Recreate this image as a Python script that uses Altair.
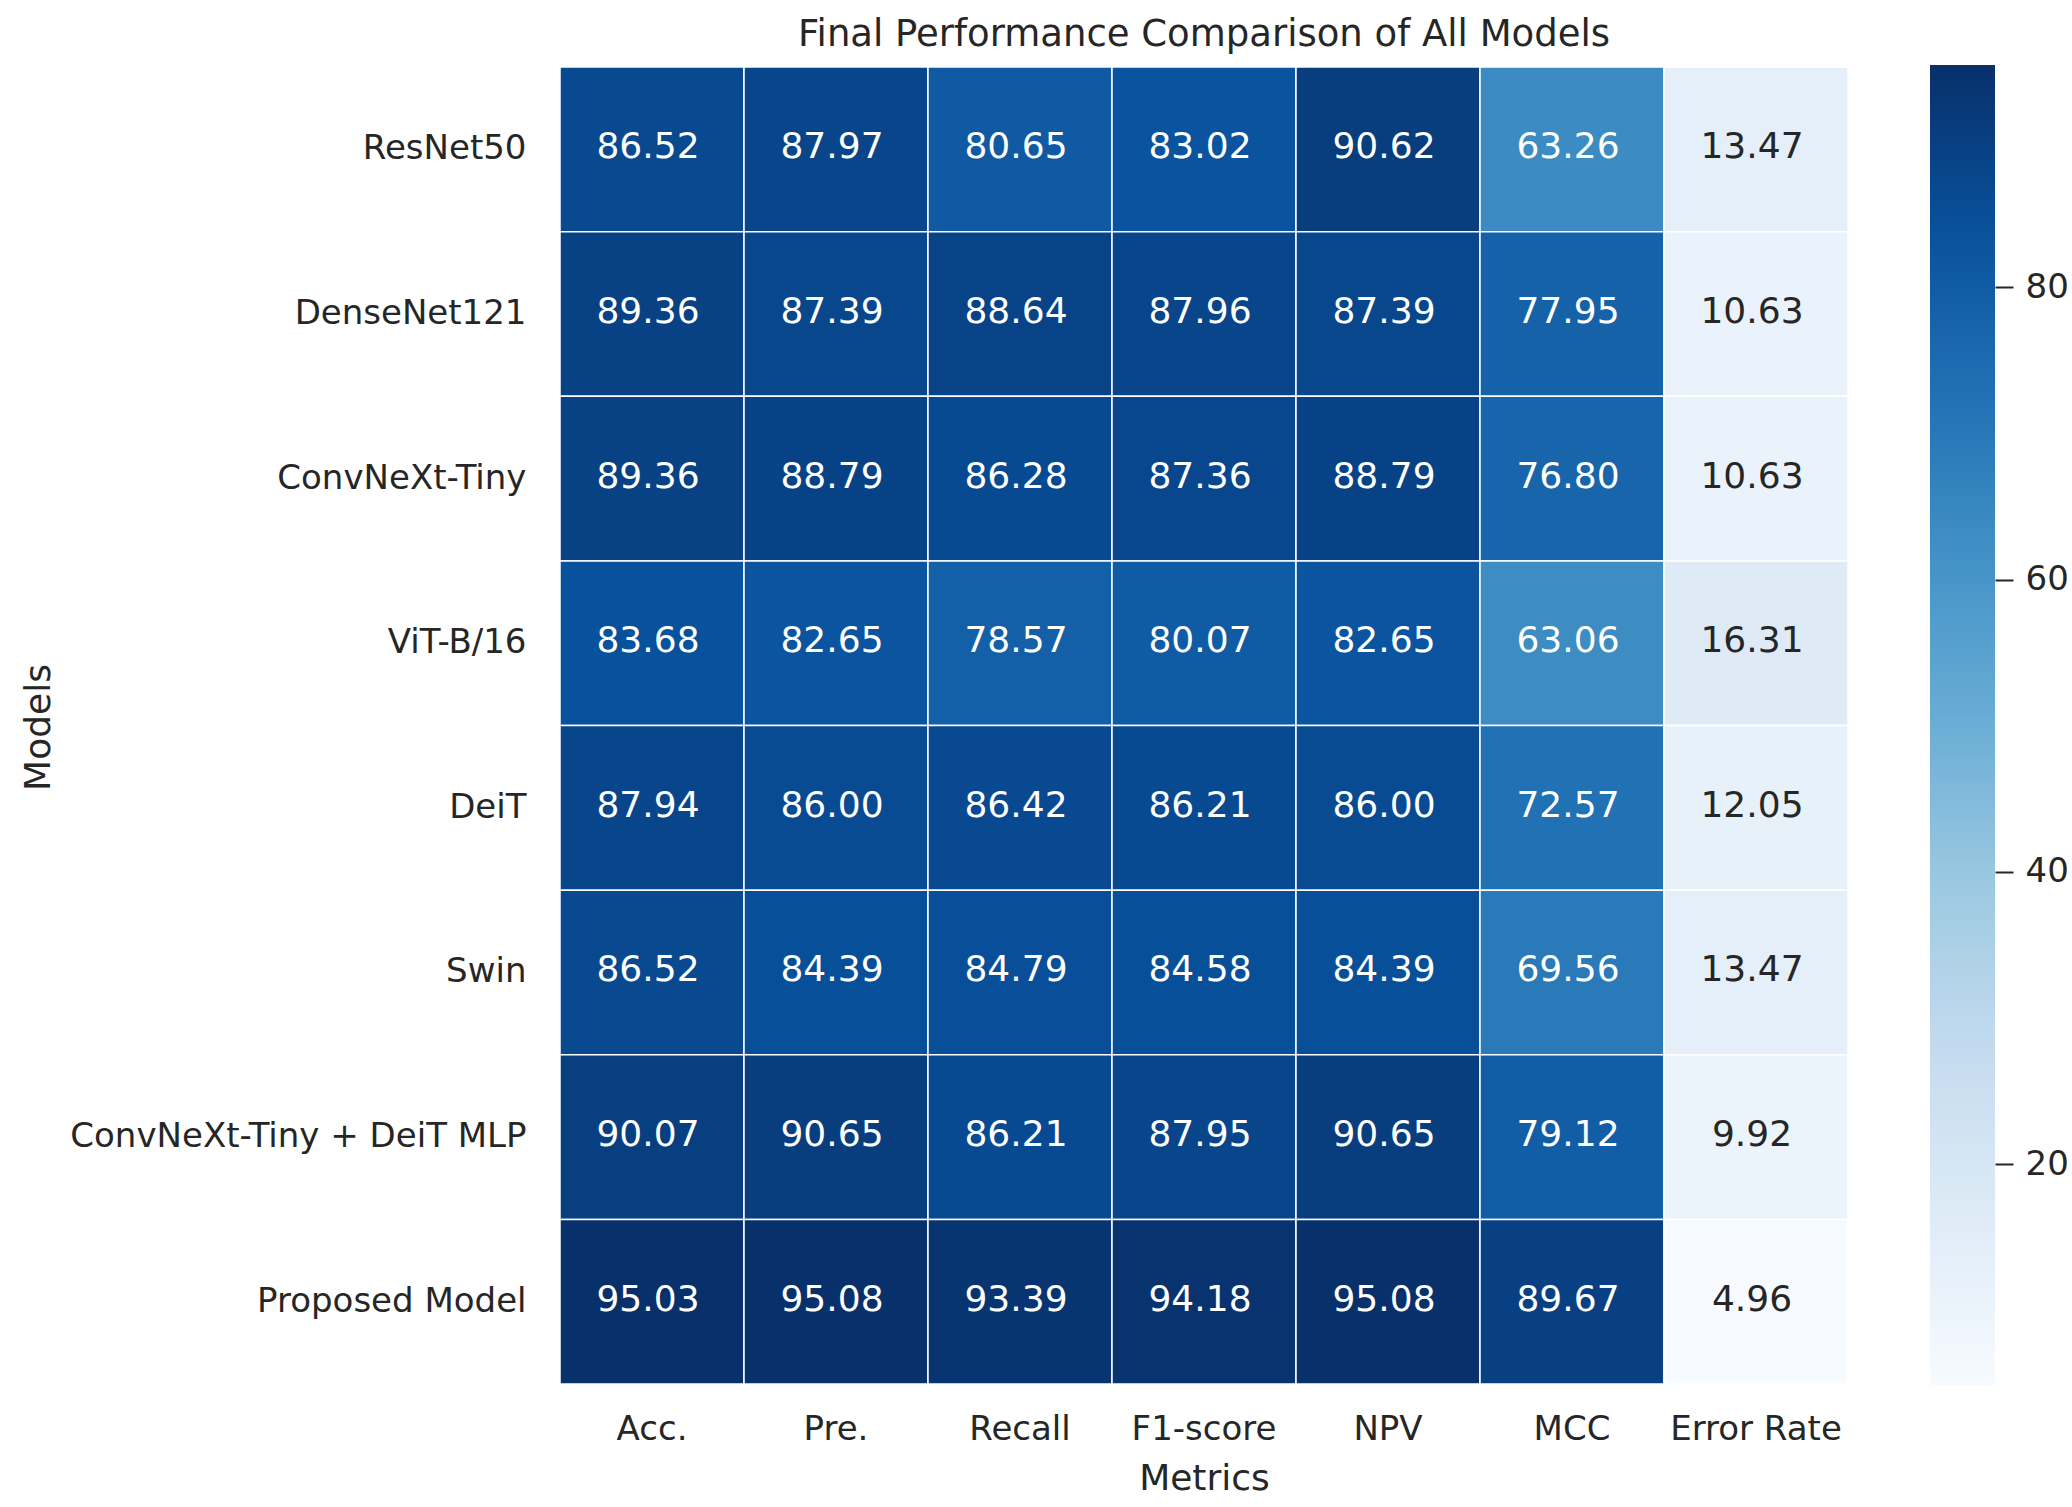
import altair as alt
import pandas as pd

models = ["ResNet50", "DenseNet121", "ConvNeXt-Tiny", "ViT-B/16", "DeiT", "Swin",
          "ConvNeXt-Tiny + DeiT MLP", "Proposed Model"]
metrics = ["Acc.", "Pre.", "Recall", "F1-score", "NPV", "MCC", "Error Rate"]

acc = [86.52, 89.36, 89.36, 83.68, 87.94, 86.52, 90.07, 95.03]
pre = [87.97, 87.39, 88.79, 82.65, 86.00, 84.39, 90.65, 95.08]
recall = [80.65, 88.64, 86.28, 78.57, 86.42, 84.79, 86.21, 93.39]
f1 = [83.02, 87.96, 87.36, 80.07, 86.21, 84.58, 87.95, 94.18]
npv = [90.62, 87.39, 88.79, 82.65, 86.00, 84.39, 90.65, 95.08]
mcc = [63.26, 77.95, 76.80, 63.06, 72.57, 69.56, 79.12, 89.67]
err = [13.47, 10.63, 10.63, 16.31, 12.05, 13.47, 9.92, 4.96]

cbar_ticks = [20, 40, 60, 80]

blues = ["#f7fbff", "#deebf7", "#c6dbef", "#9ecae1", "#6baed6",
         "#4292c6", "#2171b5", "#08519c", "#08306b"]

series = [acc, pre, recall, f1, npv, mcc, err]
rows = []
for metric, vals in zip(metrics, series):
    for model, v in zip(models, vals):
        rows.append({"Model": model, "Metric": metric, "value": v})
df = pd.DataFrame(rows)

vmin = float(df["value"].min())
vmax = float(df["value"].max())
stops = [vmin + (vmax - vmin) * i / (len(blues) - 1) for i in range(len(blues))]

FONT = "DejaVu Sans"
TXT = "#262626"

W, H = 1288, 1317

color_scale = alt.Scale(domain=stops, range=blues, interpolate="rgb")

base = alt.Chart(df)

x_enc = alt.X("Metric:N", sort=metrics, title="Metrics",
              axis=alt.Axis(labelAngle=0, ticks=False, domain=False, labelFontSize=34,
                            labelFont=FONT, labelColor=TXT, labelPadding=28,
                            titleFontSize=36, titleFont=FONT, titleColor=TXT,
                            titleFontWeight="normal", titleBaseline="alphabetic",
                            titleY=105, titleX=W / 2))
y_enc = alt.Y("Model:N", sort=models, title="Models",
              axis=alt.Axis(ticks=False, domain=False, labelFontSize=34, labelFont=FONT,
                            labelColor=TXT, labelPadding=34, labelLimit=1000,
                            titleFontSize=36, titleFont=FONT, titleColor=TXT,
                            titleFontWeight="normal", titleBaseline="alphabetic",
                            titleAngle=270, titleX=-511, titleY=660))

rect = base.mark_rect(stroke="white", strokeWidth=1.5).encode(
    x=x_enc,
    y=y_enc,
    color=alt.Color("value:Q", scale=color_scale, title=None,
                    legend=alt.Legend(orient="none", legendX=1370, legendY=-2,
                                      direction="vertical", gradientLength=1320,
                                      gradientThickness=65, gradientStrokeWidth=0,
                                      labelOpacity=0, labelFontSize=1)),
)

text = base.mark_text(fontSize=36, font=FONT, baseline="middle", align="center",
                      dx=-4, dy=-2).encode(
    x=alt.X("Metric:N", sort=metrics),
    y=alt.Y("Model:N", sort=models),
    text=alt.Text("value:Q", format=".2f"),
    color=alt.condition(alt.datum.value < 40, alt.value(TXT), alt.value("white")),
)

heat = alt.layer(rect, text)

cbar_axis = base.mark_point(opacity=0).encode(
    x=alt.value(0),
    y=alt.Y("value:Q", title=None,
            scale=alt.Scale(domain=[vmin, vmax], nice=False, zero=False),
            axis=alt.Axis(orient="right", offset=147, domain=False, grid=False,
                          values=cbar_ticks, tickSize=18, tickWidth=2, tickColor=TXT,
                          labelFontSize=34, labelFont=FONT, labelColor=TXT,
                          labelPadding=12)),
)

chart = alt.layer(heat, cbar_axis).resolve_scale(y="independent").properties(
    width=W, height=H,
    title=alt.TitleParams("Final Performance Comparison of All Models", fontSize=37,
                          font=FONT, fontWeight="normal", color=TXT, anchor="middle",
                          frame="group", baseline="alphabetic", offset=25, dy=44),
    autosize=alt.AutoSizeParams(type="none"),
    padding={"left": 560, "top": 67, "right": 224, "bottom": 123},
    background="white",
).configure_view(strokeWidth=0)

chart.save("out.html", embed_options={"renderer": "svg", "actions": False})
